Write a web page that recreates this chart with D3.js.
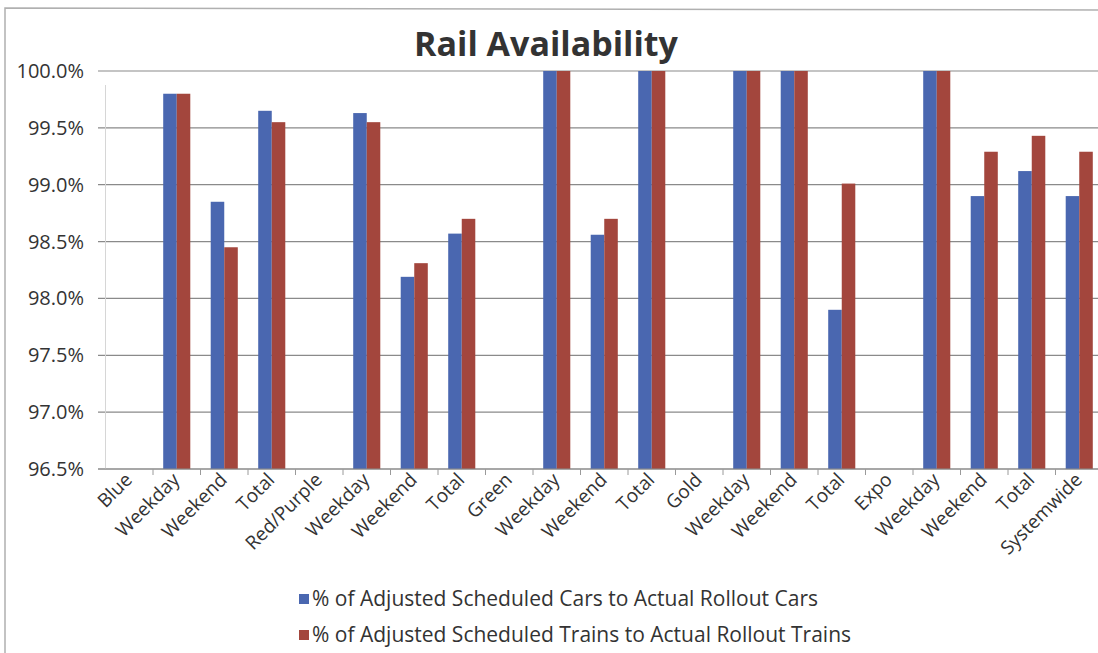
<!DOCTYPE html>
<html>
<head>
<meta charset="utf-8">
<script src="https://d3js.org/d3.v7.min.js"></script>
<style>
  body { margin: 0; background: #fff; }
  text { font-family: "Open Sans", "Noto Sans", sans-serif; fill: #333; }
</style>
</head>
<body>
<div id="chart"></div>
<script>
var categories = ["Blue", "Weekday", "Weekend", "Total", "Red/Purple", "Weekday", "Weekend", "Total",
  "Green", "Weekday", "Weekend", "Total", "Gold", "Weekday", "Weekend", "Total",
  "Expo", "Weekday", "Weekend", "Total", "Systemwide"];
var carsPct = [null, 99.80, 98.85, 99.65, null, 99.63, 98.19, 98.57, null, 100, 98.56, 100,
  null, 100, 100, 97.90, null, 100, 98.90, 99.12, 98.90];
var trainsPct = [null, 99.80, 98.45, 99.55, null, 99.55, 98.31, 98.70, null, 100, 98.70, 100,
  null, 100, 100, 99.01, null, 100, 99.29, 99.43, 99.29];
var yTicks = [96.5, 97.0, 97.5, 98.0, 98.5, 99.0, 99.5, 100.0];
var seriesNames = ["% of Adjusted Scheduled Cars to Actual Rollout Cars",
  "% of Adjusted Scheduled Trains to Actual Rollout Trains"];

var W = 1098, H = 653;
var plot = {left: 105.5, right: 1103, top: 71, bottom: 469};

var svg = d3.select("#chart").append("svg")
    .attr("width", W)
    .attr("height", H);

// outer frame of the chart
svg.append("path")
    .attr("d", "M5,653 L5,8 L1098,10")
    .attr("fill", "none")
    .attr("stroke", "#b0b0b0")
    .attr("stroke-width", 1.5);

var x = d3.scaleBand()
    .domain(d3.range(categories.length))
    .range([plot.left, plot.right])
    .paddingInner(0.43)
    .paddingOuter(0.215);

var xSub = d3.scaleBand()
    .domain([0, 1])
    .range([0, x.bandwidth()]);

var y = d3.scaleLinear()
    .domain([96.5, 100])
    .range([plot.bottom, plot.top]);

var color = d3.scaleOrdinal()
    .domain([0, 1])
    .range(["#4a67b0", "#a3463d"]);

// gridlines
svg.append("g")
  .selectAll("line")
  .data(yTicks)
  .enter().append("line")
    .attr("x1", 98)
    .attr("x2", W)
    .attr("y1", function(d) { return y(d); })
    .attr("y2", function(d) { return y(d); })
    .attr("stroke", "#8a8a8a")
    .attr("stroke-width", 1.2);

// y tick labels
svg.append("g")
  .selectAll("text")
  .data(yTicks)
  .enter().append("text")
    .attr("x", 84)
    .attr("y", function(d) { return y(d) + 7; })
    .attr("text-anchor", "end")
    .style("font-size", "20px")
    .text(function(d) { return d3.format(".1f")(d) + "%"; });

// faint vertical axis
svg.append("line")
    .attr("x1", plot.left).attr("x2", plot.left)
    .attr("y1", plot.top + 14).attr("y2", plot.bottom)
    .attr("stroke", "#d6d6d6");

// bars
var rows = categories.map(function(c, i) { return {i: i, vals: [carsPct[i], trainsPct[i]]}; });

svg.append("g")
  .selectAll("g")
  .data(rows)
  .enter()
  .append("g")
    .attr("transform", function(d) { return "translate(" + x(d.i) + ",0)"; })
  .selectAll("rect")
  .data(function(d) {
    return d.vals.map(function(v, k) { return {k: k, v: v}; }).filter(function(e) { return e.v != null; });
  })
  .enter().append("rect")
    .attr("x", function(d) { return xSub(d.k); })
    .attr("y", function(d) { return y(d.v); })
    .attr("width", xSub.bandwidth())
    .attr("height", function(d) { return y(96.5) - y(d.v); })
    .attr("fill", function(d) { return color(d.k); });

// x axis line and ticks at category boundaries
svg.append("line")
    .attr("x1", 98).attr("x2", W)
    .attr("y1", plot.bottom).attr("y2", plot.bottom)
    .attr("stroke", "#8a8a8a")
    .attr("stroke-width", 1.2);

svg.append("g")
  .selectAll("line")
  .data(d3.range(1, categories.length + 1))
  .enter().append("line")
    .attr("x1", function(d) { return x(d - 1) + x.bandwidth() / 2 + x.step() / 2; })
    .attr("x2", function(d) { return x(d - 1) + x.bandwidth() / 2 + x.step() / 2; })
    .attr("y1", plot.bottom)
    .attr("y2", plot.bottom + 6)
    .attr("stroke", "#9a9a9a");

// rotated category labels
svg.append("g")
  .selectAll("text")
  .data(rows)
  .enter().append("text")
    .attr("text-anchor", "end")
    .attr("transform", function(d) {
      var cx = x(d.i) + x.bandwidth() / 2 + 4;
      return "translate(" + cx + "," + (plot.bottom + 12) + ") rotate(-45)";
    })
    .style("font-size", "19px")
    .text(function(d) { return categories[d.i]; });

// title
svg.append("text")
    .attr("x", 546)
    .attr("y", 56)
    .attr("text-anchor", "middle")
    .style("font-size", "34px")
    .style("font-weight", "bold")
    .text("Rail Availability");

// legend
var legend = svg.append("g")
  .selectAll("g")
  .data(seriesNames)
  .enter().append("g")
    .attr("transform", function(d, i) { return "translate(299," + (606 + i * 36) + ")"; });

legend.append("rect")
    .attr("x", 0)
    .attr("y", -12)
    .attr("width", 10)
    .attr("height", 10)
    .attr("fill", function(d, i) { return color(i); });

legend.append("text")
    .attr("x", 13)
    .attr("y", 0)
    .style("font-size", "21px")
    .text(function(d) { return d; });
</script>
</body>
</html>
